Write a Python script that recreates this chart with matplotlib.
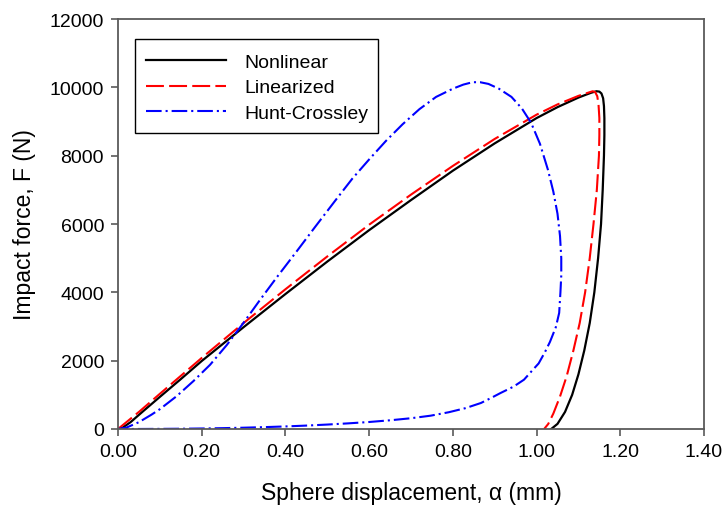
import matplotlib
matplotlib.use("Agg")
import matplotlib.pyplot as plt
from matplotlib.patches import Rectangle

plt.rcParams['font.family'] = ['Liberation Sans', 'DejaVu Sans']

# Nonlinear model (loading then unloading)
nl_alpha = [0.000, 0.010, 0.030, 0.060, 0.100, 0.150, 0.200, 0.300, 0.400, 0.500,
            0.600, 0.700, 0.800, 0.900, 1.000, 1.050, 1.100, 1.130, 1.143, 1.150,
            1.155, 1.159, 1.161, 1.162, 1.162, 1.161, 1.158, 1.154, 1.147, 1.138,
            1.127, 1.114, 1.100, 1.085, 1.068, 1.050, 1.035]
nl_force = [0, 30, 200, 520, 940, 1460, 1990, 2980, 3950, 4900,
            5820, 6700, 7560, 8360, 9100, 9420, 9700, 9840, 9886, 9875,
            9820, 9680, 9450, 9100, 8600, 8000, 7000, 6000, 5000, 4000,
            3100, 2300, 1600, 1000, 500, 150, 0]

# Linearized model
lin_alpha = [0.000, 0.050, 0.100, 0.200, 0.300, 0.400, 0.500, 0.600, 0.700, 0.800,
             0.900, 1.000, 1.050, 1.100, 1.134, 1.140, 1.145, 1.148, 1.150, 1.150,
             1.149, 1.144, 1.136, 1.127, 1.116, 1.103, 1.088, 1.072, 1.056, 1.040,
             1.028, 1.018]
lin_force = [0, 500, 1030, 2080, 3100, 4090, 5050, 5980, 6860, 7700,
             8490, 9200, 9500, 9750, 9886, 9860, 9740, 9500, 9100, 8600,
             8000, 7000, 6000, 5000, 4000, 3100, 2300, 1550, 950, 450,
             150, 0]

# Hunt-Crossley model
hc_alpha = [0.000, 0.020, 0.050, 0.080, 0.100, 0.140, 0.180, 0.220, 0.260, 0.300,
            0.340, 0.380, 0.430, 0.470, 0.520, 0.560, 0.600, 0.640, 0.680, 0.720,
            0.760, 0.800, 0.825, 0.847, 0.865, 0.885, 0.910, 0.940, 0.965, 0.987,
            1.008, 1.027, 1.040, 1.050, 1.056, 1.059, 1.059, 1.057, 1.054, 1.046,
            1.032, 1.020, 1.005, 0.985, 0.970, 0.945, 0.914, 0.890, 0.867, 0.830,
            0.790, 0.747, 0.700, 0.650, 0.600, 0.550, 0.500, 0.450, 0.400, 0.350,
            0.300, 0.250, 0.200, 0.150, 0.100, 0.050, 0.000]
hc_force = [0, 40, 200, 420, 580, 960, 1400, 1880, 2460, 3110,
            3790, 4450, 5250, 5900, 6700, 7330, 7890, 8430, 8920, 9360,
            9720, 9960, 10080, 10150, 10150, 10100, 9960, 9720, 9380, 8960,
            8350, 7593, 6950, 6300, 5650, 5000, 4500, 4000, 3397, 2980,
            2550, 2250, 1920, 1650, 1444, 1240, 1054, 900, 761, 610,
            490, 390, 315, 255, 205, 165, 130, 100, 75, 55,
            38, 25, 15, 8, 4, 1, 0]

labels = ["Nonlinear", "Linearized", "Hunt-Crossley"]
x_ticks = [0.0, 0.2, 0.4, 0.6, 0.8, 1.0, 1.2, 1.4]
y_ticks = [0, 2000, 4000, 6000, 8000, 10000, 12000]

W, H = 727, 510
fig = plt.figure(figsize=(W / 100, H / 100), dpi=100)
ax = fig.add_axes([118 / W, 80 / H, 586 / W, 410 / H])

ax.plot(nl_alpha, nl_force, color='black', lw=1.6, solid_joinstyle='round', label=labels[0])
ax.plot(lin_alpha, lin_force, color='red', lw=1.5, dashes=(8.6, 2.5), label=labels[1])
ax.plot(hc_alpha, hc_force, color='blue', lw=1.5, dashes=(7.5, 1.9, 1.0, 1.9), label=labels[2])

ax.set_xlim(0, 1.4)
ax.set_ylim(0, 12000)
ax.set_xticks(x_ticks)
ax.set_xticklabels([f"{v:.2f}" for v in x_ticks])
ax.set_yticks(y_ticks)
ax.set_yticklabels([str(v) for v in y_ticks])

spine_col = '#5a5a5a'
for s in ax.spines.values():
    s.set_color(spine_col)
    s.set_linewidth(1.3)
ax.tick_params(axis='both', direction='out', length=5, width=1.2, color=spine_col,
               labelsize=14, pad=5, top=False, right=False)

ax.set_xlabel("Sphere displacement, α (mm)", fontsize=16.5, labelpad=15)
ax.set_ylabel("Impact force, F (N)", fontsize=16.5, labelpad=10)

# legend frame drawn separately, behind the legend entries
frame = Rectangle((135 / W, (H - 134) / H), 243 / W, 94 / H, transform=fig.transFigure,
                  facecolor='white', edgecolor='black', lw=1.0, zorder=4, clip_on=False)
ax.add_patch(frame)

leg = ax.legend(loc='upper left', bbox_to_anchor=(146 / W, (H - 54) / H),
                bbox_transform=fig.transFigure, fontsize=14,
                handlelength=4.12, handletextpad=0.93, labelspacing=0.42,
                borderpad=0.0, borderaxespad=0.0, frameon=False)
leg.set_zorder(5)

fig.savefig("out.png", dpi=100)
